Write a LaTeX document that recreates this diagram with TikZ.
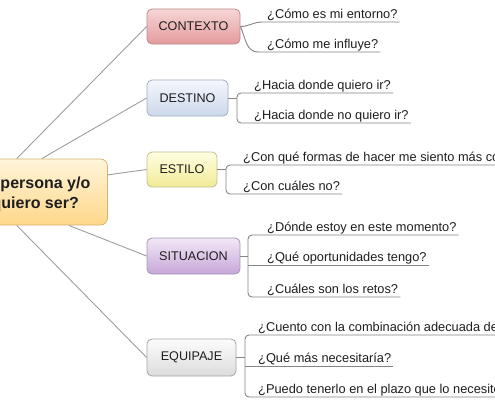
\documentclass[tikz,border=0pt]{standalone}
\usepackage{fontspec}
\setmainfont{Liberation Sans}
\definecolor{ctxtop}{HTML}{F7D6D6}
\definecolor{ctxbot}{HTML}{E39A9C}
\definecolor{ctxbrd}{HTML}{BC8A8C}
\definecolor{dsttop}{HTML}{F4F7FC}
\definecolor{dstbot}{HTML}{CCD8EC}
\definecolor{dstbrd}{HTML}{A4ADBE}
\definecolor{stytop}{HTML}{FFFFE2}
\definecolor{stybot}{HTML}{F1EA96}
\definecolor{stybrd}{HTML}{C4BF8C}
\definecolor{sittop}{HTML}{F2E8F6}
\definecolor{sitbot}{HTML}{C7A6D8}
\definecolor{sitbrd}{HTML}{A495B4}
\definecolor{eqptop}{HTML}{FCFCFC}
\definecolor{eqpbot}{HTML}{DCDCDC}
\definecolor{eqpbrd}{HTML}{A6A6A6}
\definecolor{cnttop}{HTML}{FFF5DA}
\definecolor{cntbot}{HTML}{FFD78A}
\definecolor{cntbrd}{HTML}{D8B272}
\definecolor{txt}{HTML}{1E1E1E}
\newcommand{\topicfont}{\fontsize{12.6}{15}\selectfont}
\newcommand{\subfont}{\fontsize{12.8}{15}\selectfont}
\newcommand{\centralfont}{\fontsize{16}{19}\selectfont\bfseries}
\begin{document}
\begin{tikzpicture}[x=1pt,y=-1pt,
  conn/.style={draw=black!38, line width=0.9pt},
  uline/.style={draw=black!48, line width=0.9pt},
  topic/.style={rounded corners=5pt, inner sep=0pt, font=\topicfont, text=txt, line width=0.8pt},
  subq/.style={font=\subfont, text=txt, inner xsep=2pt, inner ysep=3.8pt, text depth=0pt, anchor=south west},
  ctext/.style={font=\centralfont, text=txt, inner sep=0pt, anchor=base east}]
\useasboundingbox (0,0) rectangle (495,400);
\clip (0,0) rectangle (495,400);
\fill[white] (0,0) rectangle (495,400);

% central topic
\node[rounded corners=7pt, draw=cntbrd, top color=cnttop, bottom color=cntbot, line width=0.8pt,
      minimum width=247pt, minimum height=66pt, inner sep=0pt] (c) at (-16,192) {};
\node[ctext] (ct1) at (90.5,188) {persona y/o};
\node[ctext] (ct2) at (79,208) {quiero ser?};

% main topics
\node[topic, draw=ctxbrd, top color=ctxtop, bottom color=ctxbot, minimum width=93pt, minimum height=35pt] (ctx) at (193.5,26.5) {CONTEXTO};
\node[topic, draw=dstbrd, top color=dsttop, bottom color=dstbot, minimum width=81pt, minimum height=36pt] (dst) at (187.5,98) {DESTINO};
\node[topic, draw=stybrd, top color=stytop, bottom color=stybot, minimum width=70pt, minimum height=35pt] (sty) at (182,169.5) {ESTILO};
\node[topic, draw=sitbrd, top color=sittop, bottom color=sitbot, minimum width=93pt, minimum height=36pt] (sit) at (193.5,256) {SITUACION};
\node[topic, draw=eqpbrd, top color=eqptop, bottom color=eqpbot, minimum width=89pt, minimum height=37pt] (eqp) at (191.5,357.5) {EQUIPAJE};

% connectors from central topic
\draw[conn] (c) -- (ctx.west);
\draw[conn] (c) -- (dst.west);
\draw[conn] (c) -- (sty.west);
\draw[conn] (c) -- (sit.west);
\draw[conn] (c) -- (eqp.west);

% CONTEXTO
\node[subq] (c1) at (265,22) {¿Cómo es mi entorno?};
\node[subq] (c2) at (265,52) {¿Cómo me influye?};
\draw[uline] (ctx.east) to[out=0,in=180] ([xshift=-3pt]c1.south west) -- (c1.south east);
\draw[uline] (ctx.east) to[out=-65,in=180] ([xshift=-7pt]c2.south west) -- (c2.south east);

% DESTINO
\coordinate (dj) at (237,98);
\node[subq] (d1) at (252,93) {¿Hacia donde quiero ir?};
\node[subq] (d2) at (252,123) {¿Hacia donde no quiero ir?};
\draw[uline] (dst.east) -- (dj);
\draw[uline, rounded corners=4pt] (d1.south east) -- (dj |- d1.south) -- (dj |- d2.south) -- (d2.south east);

% ESTILO
\coordinate (ej) at (226,169.5);
\node[subq] (e1) at (241,165) {¿Con qué formas de hacer me siento más cómodo?};
\node[subq] (e2) at (241,194) {¿Con cuáles no?};
\draw[uline] (sty.east) -- (ej);
\draw[uline, rounded corners=4pt] (e1.south east) -- (ej |- e1.south) -- (ej |- e2.south) -- (e2.south east);

% SITUACION
\coordinate (sj) at (248,256);
\node[subq] (s1) at (265,235) {¿Dónde estoy en este momento?};
\node[subq] (s2) at (265,265) {¿Qué oportunidades tengo?};
\node[subq] (s3) at (265,297) {¿Cuáles son los retos?};
\draw[uline] (sit.east) -- (sj);
\draw[uline, rounded corners=4pt] (s1.south east) -- (sj |- s1.south) -- (sj |- s3.south) -- (s3.south east);
\draw[uline] (sj |- s2.south) -- (s2.south east);

% EQUIPAJE
\coordinate (qj) at (245,357.5);
\node[subq] (q1) at (256,335) {¿Cuento con la combinación adecuada de};
\node[subq] (q2) at (256,366) {¿Qué más necesitaría?};
\node[subq] (q3) at (256,397) {¿Puedo tenerlo en el plazo que lo necesito?};
\draw[uline] (eqp.east) -- (qj);
\draw[uline, rounded corners=4pt] (q1.south east) -- (qj |- q1.south) -- (qj |- q3.south) -- (q3.south east);
\draw[uline] (qj |- q2.south) -- (q2.south east);
\end{tikzpicture}
\end{document}
